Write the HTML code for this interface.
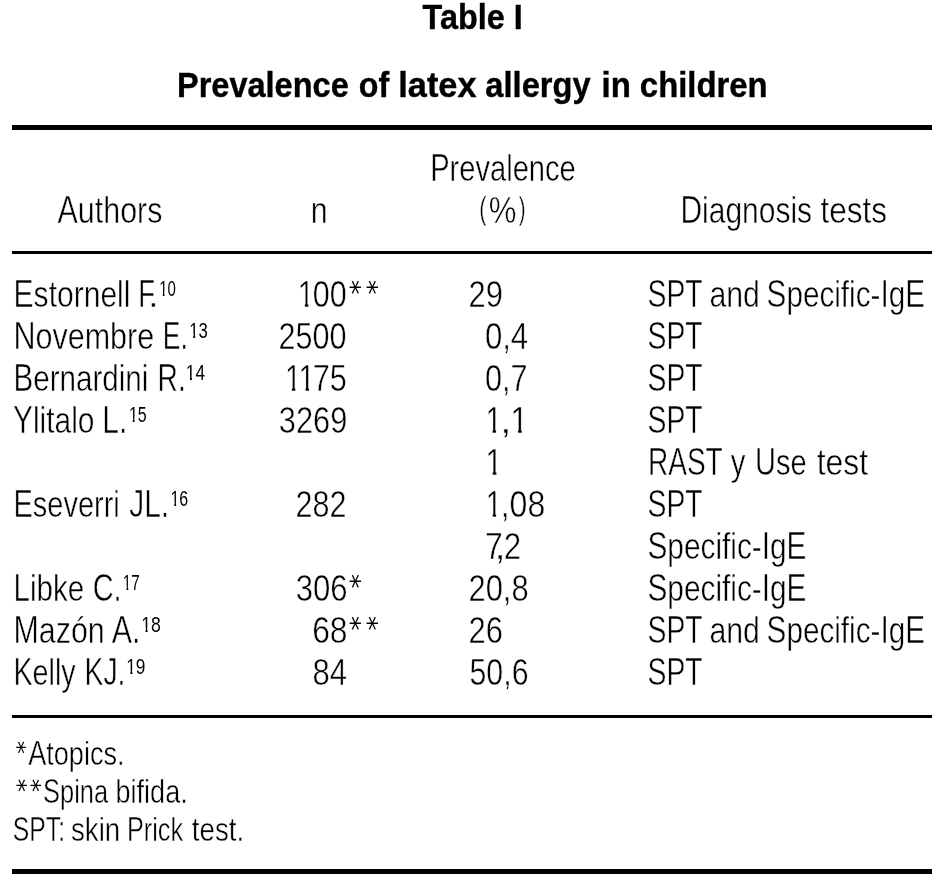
<!DOCTYPE html>
<html lang="en"><head><meta charset="utf-8"><title>Table I - Prevalence of latex allergy in children</title>
<style>
html,body{margin:0;padding:0;background:#fff;}
body{width:938px;height:889px;position:relative;overflow:hidden;font-family:"Liberation Sans",Arial,Helvetica,sans-serif;color:#000;}
#c{position:absolute;left:0;top:0;width:938px;height:889px;will-change:transform;}
.t{position:absolute;left:0;top:0;white-space:nowrap;line-height:1;transform-origin:0 0;-webkit-text-stroke:0.0137em #fff;}
.r{position:absolute;background:#000;}
.b{font-weight:bold;-webkit-text-stroke:0.4px #000;}
.one,.o1{clip-path:polygon(0 0,100% 0,100% 62%,64% 62%,64% 100%,43% 100%,43% 62%,0 62%);}
.o1{display:inline-block;}
.C{display:inline-block;transform:scaleY(1.07);transform-origin:0 84.65%;}
.k{display:inline-block;font-family:"DejaVu Sans","Liberation Sans",sans-serif;transform:rotate(90deg);-webkit-text-stroke:0;}
.k+.k{margin-left:0.155em;}
</style></head><body>
<div class="r" style="left:12px;top:124.7px;width:920px;height:5.2px"></div>
<div class="r" style="left:12px;top:250.9px;width:920px;height:3.1px"></div>
<div class="r" style="left:12px;top:715px;width:920px;height:3.1px"></div>
<div class="r" style="left:12px;top:868.8px;width:920px;height:5.1px"></div>
<div id="c">
<div class="caption">
<span class="t b" style="font-size:35px;transform:translate(422.62px,-1.03px) scaleX(0.9241);">Table I</span>
</div>
<div class="caption">
<span class="t b" style="font-size:35px;transform:translate(176.99px,66.97px) scaleX(0.9290);">Prevalence</span>
<span class="t b" style="font-size:35px;transform:translate(358.82px,66.97px) scaleX(0.9213);">of</span>
<span class="t b" style="font-size:35px;transform:translate(398.23px,66.97px) scaleX(0.9819);">latex</span>
<span class="t b" style="font-size:35px;transform:translate(485.36px,66.97px) scaleX(0.9321);">allergy</span>
<span class="t b" style="font-size:35px;transform:translate(601.57px,66.97px) scaleX(0.9426);">in</span>
<span class="t b" style="font-size:35px;transform:translate(639.86px,66.97px) scaleX(0.9384);">children</span>
</div>
<div class="thead">
<span class="t" style="font-size:36.5px;transform:translate(57.56px,192.70px) scaleX(0.8332);"><span class="C">A</span>uthors</span>
<span class="t" style="font-size:36.5px;transform:translate(310.65px,192.70px) scaleX(0.8304);">n</span>
<span class="t" style="font-size:36.5px;transform:translate(430.13px,150.70px) scaleX(0.7974);"><span class="C">P</span>revalence</span>
<span class="t" style="font-size:31px;transform:translate(479.16px,193.36px) scaleX(0.6990);">(</span><span class="t" style="font-size:36.5px;transform:translate(488.69px,192.70px) scaleX(0.8515);">%</span><span class="t" style="font-size:31px;transform:translate(518.78px,193.36px) scaleX(0.6619);">)</span>
<span class="t" style="font-size:36.5px;transform:translate(680.47px,192.70px) scaleX(0.8210);"><span class="C">D</span>iagnosis</span>
<span class="t" style="font-size:36.5px;transform:translate(820.45px,192.70px) scaleX(0.8632);">tests</span>
</div>
<div class="tr">
<span class="t" style="font-size:36.5px;transform:translate(13.57px,276.70px) scaleX(0.8228);"><span class="C">E</span>stornell</span>
<span class="t" style="font-size:36.5px;transform:translate(138.14px,276.70px) scaleX(0.7529);"><span class="C">F</span></span><span class="t" style="font-size:36.5px;transform:translate(147.93px,276.70px) scaleX(1.0503);">.</span><span class="t" style="font-size:21.6px;transform:translate(159.20px,278.32px) scaleX(0.6955);-webkit-text-stroke:0;"><span class="o1">1</span>0</span>
<span class="t one" style="font-size:36.5px;transform:translate(297.81px,276.70px) scaleX(0.8082);">1</span><span class="t" style="font-size:36.5px;transform:translate(312.85px,276.70px) scaleX(0.8346);">00</span><span class="t" style="font-size:30px;transform:translate(344.78px,272.21px) scaleX(0.8545);"><span class="k">*</span><span class="k">*</span></span>
<span class="t" style="font-size:36.5px;transform:translate(468.62px,276.70px) scaleX(0.8449);">29</span>
<span class="t" style="font-size:36.5px;transform:translate(647.54px,276.70px) scaleX(0.7766);"><span class="C">SPT</span></span>
<span class="t" style="font-size:36.5px;transform:translate(709.46px,276.70px) scaleX(0.8292);">and</span>
<span class="t" style="font-size:36.5px;transform:translate(766.56px,276.70px) scaleX(0.8135);"><span class="C">S</span>pecific-<span class="C">I</span>g<span class="C">E</span></span>
</div>
<div class="tr">
<span class="t" style="font-size:36.5px;transform:translate(13.41px,318.70px) scaleX(0.8359);"><span class="C">N</span>ovembre</span>
<span class="t" style="font-size:36.5px;transform:translate(162.73px,318.70px) scaleX(0.7276);"><span class="C">E.</span></span><span class="t" style="font-size:21.6px;transform:translate(189.25px,320.32px) scaleX(0.7732);-webkit-text-stroke:0;"><span class="o1">1</span>3</span>
<span class="t" style="font-size:36.5px;transform:translate(278.51px,318.70px) scaleX(0.8364);">2500</span>
<span class="t" style="font-size:36.5px;transform:translate(484.89px,318.70px) scaleX(0.8528);">0,4</span>
<span class="t" style="font-size:36.5px;transform:translate(647.54px,318.70px) scaleX(0.7766);"><span class="C">SPT</span></span>
</div>
<div class="tr">
<span class="t" style="font-size:36.5px;transform:translate(13.44px,360.70px) scaleX(0.8104);"><span class="C">B</span>ernardini</span>
<span class="t" style="font-size:36.5px;transform:translate(157.55px,360.70px) scaleX(0.7725);"><span class="C">R.</span></span><span class="t" style="font-size:21.6px;transform:translate(185.82px,362.32px) scaleX(0.7961);-webkit-text-stroke:0;"><span class="o1">1</span>4</span>
<span class="t one" style="font-size:36.5px;transform:translate(284.91px,360.70px) scaleX(0.7996);">1</span><span class="t one" style="font-size:36.5px;transform:translate(298.55px,360.70px) scaleX(0.8043);">1</span><span class="t" style="font-size:36.5px;transform:translate(312.70px,360.70px) scaleX(0.8396);">75</span>
<span class="t" style="font-size:36.5px;transform:translate(484.98px,360.70px) scaleX(0.8384);">0,7</span>
<span class="t" style="font-size:36.5px;transform:translate(647.54px,360.70px) scaleX(0.7766);"><span class="C">SPT</span></span>
</div>
<div class="tr">
<span class="t" style="font-size:36.5px;transform:translate(12.96px,402.70px) scaleX(0.8203);"><span class="C">Y</span>litalo</span>
<span class="t" style="font-size:36.5px;transform:translate(102.25px,402.70px) scaleX(0.8223);"><span class="C">L.</span></span><span class="t" style="font-size:21.6px;transform:translate(128.90px,404.32px) scaleX(0.7427);-webkit-text-stroke:0;"><span class="o1">1</span>5</span>
<span class="t" style="font-size:36.5px;transform:translate(278.80px,402.70px) scaleX(0.8439);">3269</span>
<span class="t one" style="font-size:36.5px;transform:translate(485.55px,402.70px) scaleX(0.8116);">1</span><span class="t" style="font-size:36.5px;transform:translate(500.08px,402.70px) scaleX(1.1552);">,</span><span class="t one" style="font-size:36.5px;transform:translate(510.27px,402.70px) scaleX(0.8797);">1</span>
<span class="t" style="font-size:36.5px;transform:translate(647.54px,402.70px) scaleX(0.7766);"><span class="C">SPT</span></span>
</div>
<div class="tr">
<span class="t one" style="font-size:36.5px;transform:translate(485.28px,444.70px) scaleX(0.8541);">1</span>
<span class="t" style="font-size:36.5px;transform:translate(647.95px,444.70px) scaleX(0.7682);"><span class="C">RAST</span></span>
<span class="t" style="font-size:36.5px;transform:translate(730.79px,444.70px) scaleX(0.8026);">y</span>
<span class="t" style="font-size:36.5px;transform:translate(754.95px,444.70px) scaleX(0.7944);"><span class="C">U</span>se</span>
<span class="t" style="font-size:36.5px;transform:translate(816.63px,444.70px) scaleX(0.8752);">test</span>
</div>
<div class="tr">
<span class="t" style="font-size:36.5px;transform:translate(13.54px,486.70px) scaleX(0.7936);"><span class="C">E</span>severri</span>
<span class="t" style="font-size:36.5px;transform:translate(129.18px,486.70px) scaleX(0.8203);"><span class="C">JL.</span></span><span class="t" style="font-size:21.6px;transform:translate(170.46px,488.32px) scaleX(0.7390);-webkit-text-stroke:0;"><span class="o1">1</span>6</span>
<span class="t" style="font-size:36.5px;transform:translate(295.57px,486.70px) scaleX(0.8356);">282</span>
<span class="t one" style="font-size:36.5px;transform:translate(485.78px,486.70px) scaleX(0.7942);">1</span><span class="t" style="font-size:36.5px;transform:translate(500.66px,486.70px) scaleX(0.8777);">,08</span>
<span class="t" style="font-size:36.5px;transform:translate(647.54px,486.70px) scaleX(0.7766);"><span class="C">SPT</span></span>
</div>
<div class="tr">
<span class="t" style="font-size:36.5px;transform:translate(484.90px,528.70px) scaleX(0.8732);">7</span><span class="t" style="font-size:36.5px;transform:translate(494.35px,528.70px) scaleX(1.1377);">,</span><span class="t" style="font-size:36.5px;transform:translate(503.68px,528.70px) scaleX(0.8576);">2</span>
<span class="t" style="font-size:36.5px;transform:translate(647.48px,528.70px) scaleX(0.8161);"><span class="C">S</span>pecific-<span class="C">I</span>g<span class="C">E</span></span>
</div>
<div class="tr">
<span class="t" style="font-size:36.5px;transform:translate(13.49px,570.70px) scaleX(0.8089);"><span class="C">L</span>ibke</span>
<span class="t" style="font-size:36.5px;transform:translate(92.63px,570.70px) scaleX(0.7928);"><span class="C">C.</span></span><span class="t" style="font-size:21.6px;transform:translate(122.87px,572.32px) scaleX(0.7055);-webkit-text-stroke:0;"><span class="o1">1</span>7</span>
<span class="t" style="font-size:36.5px;transform:translate(295.72px,570.70px) scaleX(0.8502);">306</span><span class="t" style="font-size:30px;transform:translate(344.85px,566.21px) scaleX(0.8222);"><span class="k">*</span></span>
<span class="t" style="font-size:36.5px;transform:translate(468.52px,570.70px) scaleX(0.8455);">20,8</span>
<span class="t" style="font-size:36.5px;transform:translate(647.48px,570.70px) scaleX(0.8161);"><span class="C">S</span>pecific-<span class="C">I</span>g<span class="C">E</span></span>
</div>
<div class="tr">
<span class="t" style="font-size:36.5px;transform:translate(13.46px,612.70px) scaleX(0.8330);"><span class="C">M</span>azón</span>
<span class="t" style="font-size:36.5px;transform:translate(111.80px,612.70px) scaleX(0.8348);"><span class="C">A.</span></span><span class="t" style="font-size:21.6px;transform:translate(141.30px,614.32px) scaleX(0.8170);-webkit-text-stroke:0;"><span class="o1">1</span>8</span>
<span class="t" style="font-size:36.5px;transform:translate(312.16px,612.70px) scaleX(0.8724);">68</span><span class="t" style="font-size:30px;transform:translate(344.78px,608.21px) scaleX(0.8545);"><span class="k">*</span><span class="k">*</span></span>
<span class="t" style="font-size:36.5px;transform:translate(468.51px,612.70px) scaleX(0.8490);">26</span>
<span class="t" style="font-size:36.5px;transform:translate(647.54px,612.70px) scaleX(0.7766);"><span class="C">SPT</span></span>
<span class="t" style="font-size:36.5px;transform:translate(709.46px,612.70px) scaleX(0.8292);">and</span>
<span class="t" style="font-size:36.5px;transform:translate(766.56px,612.70px) scaleX(0.8135);"><span class="C">S</span>pecific-<span class="C">I</span>g<span class="C">E</span></span>
</div>
<div class="tr">
<span class="t" style="font-size:36.5px;transform:translate(13.44px,654.70px) scaleX(0.7862);"><span class="C">K</span>elly</span>
<span class="t" style="font-size:36.5px;transform:translate(84.45px,654.70px) scaleX(0.7778);"><span class="C">KJ.</span></span><span class="t" style="font-size:21.6px;transform:translate(126.21px,656.32px) scaleX(0.7995);-webkit-text-stroke:0;"><span class="o1">1</span>9</span>
<span class="t" style="font-size:36.5px;transform:translate(312.51px,654.70px) scaleX(0.8501);">84</span>
<span class="t" style="font-size:36.5px;transform:translate(469.51px,654.70px) scaleX(0.8301);">50,6</span>
<span class="t" style="font-size:36.5px;transform:translate(647.54px,654.70px) scaleX(0.7766);"><span class="C">SPT</span></span>
</div>
<div class="note">
<span class="t" style="font-size:26.5px;transform:translate(11.22px,734.17px) scaleX(0.7881);"><span class="k">*</span></span><span class="t" style="font-size:32.8px;transform:translate(28.16px,737.83px) scaleX(0.8268);"><span class="C">A</span>topics.</span>
</div>
<div class="note">
<span class="t" style="font-size:26.5px;transform:translate(11.37px,772.17px) scaleX(0.8440);"><span class="k">*</span><span class="k">*</span></span><span class="t" style="font-size:32.8px;transform:translate(43.06px,775.83px) scaleX(0.7741);"><span class="C">S</span>pina</span>
<span class="t" style="font-size:32.8px;transform:translate(115.55px,775.83px) scaleX(0.8243);">bifida.</span>
</div>
<div class="note">
<span class="t" style="font-size:32.8px;transform:translate(12.78px,813.83px) scaleX(0.7545);"><span class="C">SPT:</span></span>
<span class="t" style="font-size:32.8px;transform:translate(70.98px,813.83px) scaleX(0.8445);">skin</span>
<span class="t" style="font-size:32.8px;transform:translate(126.92px,813.83px) scaleX(0.7713);"><span class="C">P</span>rick</span>
<span class="t" style="font-size:32.8px;transform:translate(191.85px,813.83px) scaleX(0.8442);">test.</span>
</div>
</div>
</body></html>
